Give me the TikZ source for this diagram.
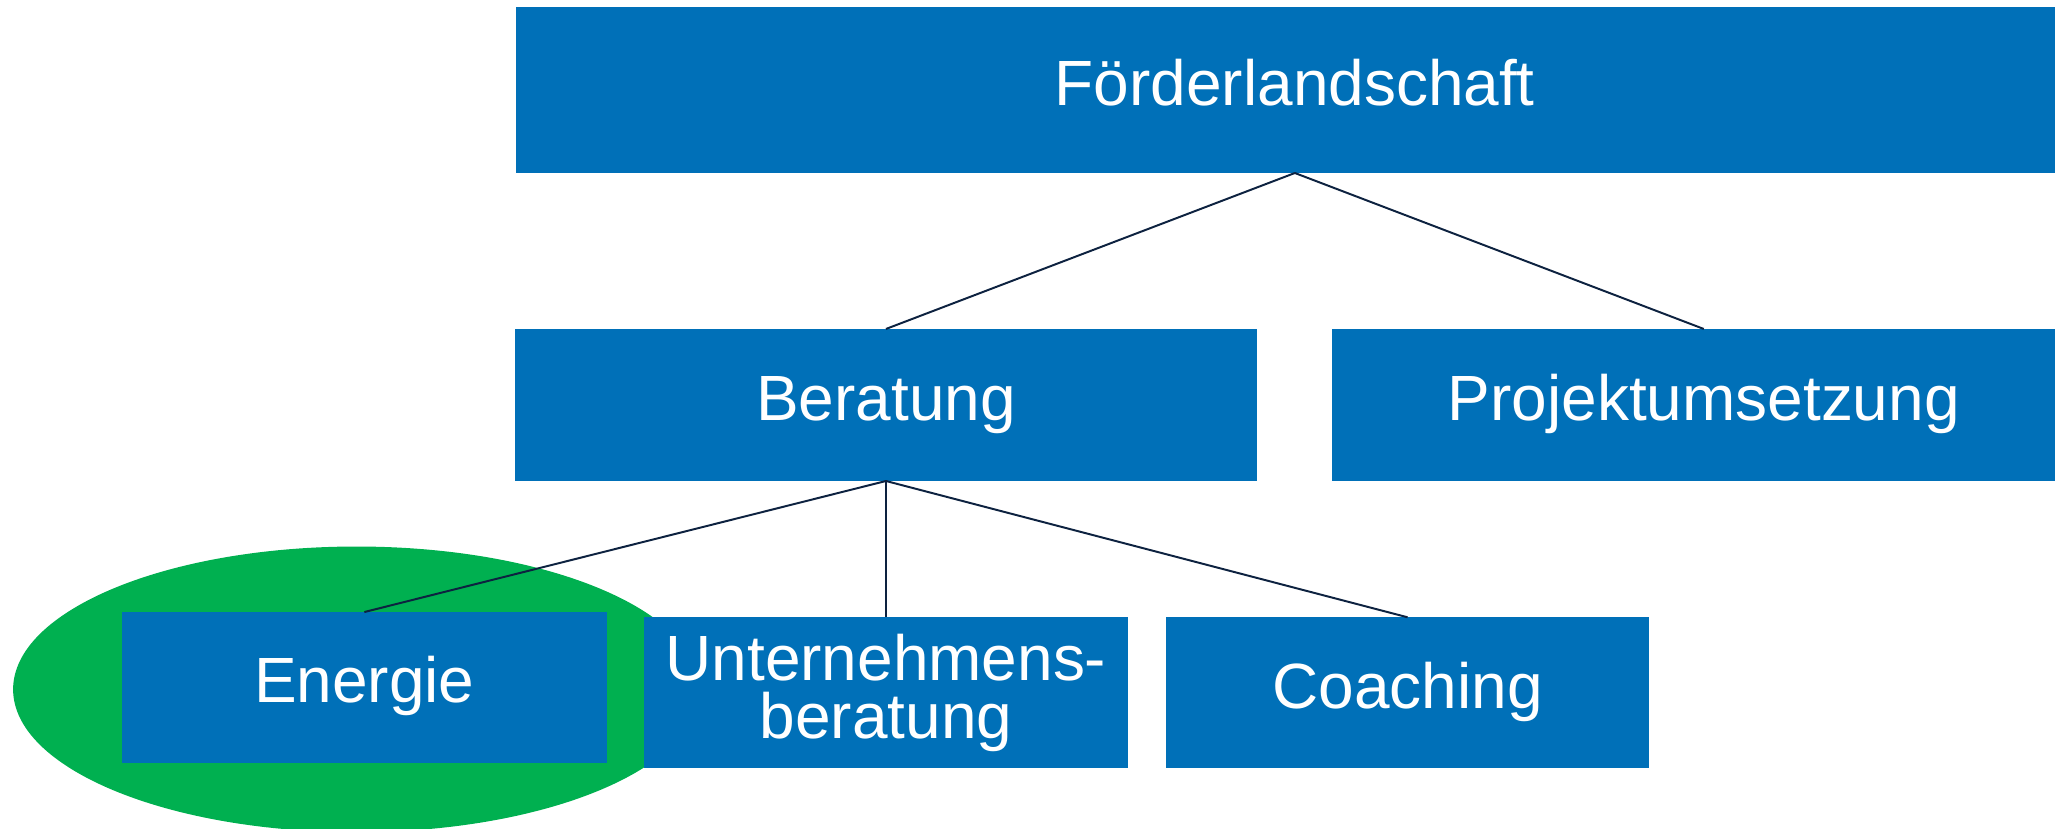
\documentclass[tikz,border=0pt]{standalone}
\usepackage{fontspec}
\setmainfont{Liberation Sans}
\definecolor{boxblue}{HTML}{0070B8}
\definecolor{hgreen}{HTML}{00B050}
\definecolor{linecol}{HTML}{0D2240}
\begin{document}
\begin{tikzpicture}[x=1pt,y=-1pt,
  box/.style={rectangle, fill=boxblue, draw=none, inner sep=0pt, outer sep=0pt,
    text=white, align=center, font=\fontsize{48.8}{44}\selectfont},
  oneline/.style={text height=23.5pt, text depth=0pt},
  conn/.style={draw=linecol, line width=1.5pt}]
\useasboundingbox (0,0) rectangle (1568,631.8);
\clip (0,0) rectangle (1568,631.8);
\fill[hgreen] (272,526) ellipse [x radius=262, y radius=109];
\node[box, oneline, minimum width=1188pt, minimum height=127pt] (top) at (988,68.5) {Förderlandschaft};
\node[box, oneline, minimum width=566pt, minimum height=116pt] (ber) at (676,309) {Beratung};
\node[box, oneline, minimum width=568pt, minimum height=116pt] (proj) at (1300,309) {Projektumsetzung};
\node[box, oneline, minimum width=370pt, minimum height=115pt] (ene) at (278,524.5) {Energie};
\node[box, minimum width=370pt, minimum height=115pt] (unt) at (676,528.5) {Unternehmens-\\beratung};
\node[box, oneline, minimum width=368pt, minimum height=115pt] (coa) at (1074,528.5) {Coaching};
\draw[conn] (top.south) -- (ber.north);
\draw[conn] (top.south) -- (proj.north);
\draw[conn] (ber.south) -- (ene.north);
\draw[conn] (ber.south) -- (unt.north);
\draw[conn] (ber.south) -- (coa.north);
\end{tikzpicture}
\end{document}
